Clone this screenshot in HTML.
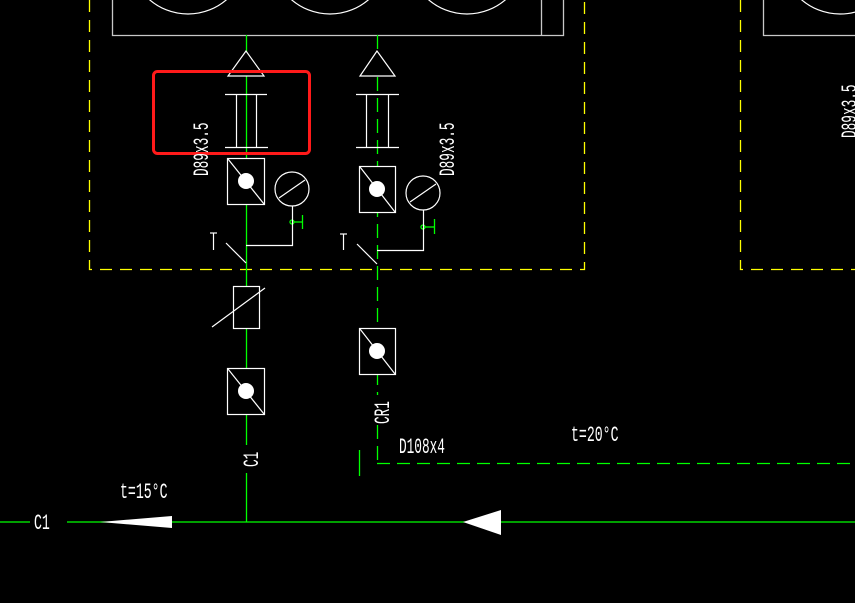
<!DOCTYPE html>
<html><head><meta charset="utf-8"><style>
html,body{margin:0;padding:0;background:#000;}
svg{display:block;}
text{font-family:"Liberation Mono",monospace;fill:#fff;}
</style></head><body>
<svg width="855" height="603" viewBox="0 0 855 603" xmlns="http://www.w3.org/2000/svg">
<rect width="855" height="603" fill="#000"/>
<g fill="none" stroke="#c8c8c8" stroke-width="1.3">
<path d="M112.5 0 V35.5 H563.5 V0"/>
<line x1="541.5" y1="0" x2="541.5" y2="35"/>
<path d="M763.5 0 V35.5 H855"/>
</g>
<g fill="none" stroke="#fff" stroke-width="1.2">
<circle cx="188" cy="-45" r="59"/>
<circle cx="330" cy="-45" r="59"/>
<circle cx="467" cy="-45" r="59"/>
<circle cx="840" cy="-45" r="59"/>
</g>
<g fill="none" stroke="#ffff00" stroke-width="1.3" stroke-dasharray="12,8">
<path d="M89.5 0 V269.5 H584.5 V0"/>
<path d="M740.5 0 V269.5 H855"/>
</g>
<g stroke="#00ff00" stroke-width="1.3" fill="none">
<line x1="246.5" y1="35" x2="246.5" y2="445"/>
<line x1="246.5" y1="473" x2="246.5" y2="522"/>
<line x1="377.5" y1="35" x2="377.5" y2="395" stroke-dasharray="14,7"/>
<line x1="377.5" y1="425" x2="377.5" y2="463" stroke-dasharray="14,7"/>
<line x1="377" y1="463.5" x2="855" y2="463.5" stroke-dasharray="13,7"/>
<line x1="359.5" y1="450" x2="359.5" y2="476"/>
<line x1="0" y1="522" x2="30" y2="522"/>
<line x1="67" y1="522" x2="855" y2="522"/>
<circle cx="292" cy="222" r="2"/>
<line x1="294" y1="222" x2="302" y2="222"/>
<line x1="302.5" y1="215" x2="302.5" y2="229"/>
<circle cx="423" cy="227" r="2"/>
<line x1="425" y1="227" x2="434" y2="227"/>
<line x1="434.5" y1="219" x2="434.5" y2="234"/>
</g>
<g stroke="#fff" stroke-width="1.2" fill="#000">
<polygon points="246,51 228,76 264,76"/>
<polygon points="377,51 360,76 395,76"/>
<line x1="225" y1="94.5" x2="267" y2="94.5"/>
<line x1="225" y1="147.5" x2="268" y2="147.5"/>
<line x1="236.5" y1="94" x2="236.5" y2="147"/>
<line x1="256.5" y1="94" x2="256.5" y2="147"/>
<line x1="356" y1="94.5" x2="399" y2="94.5"/>
<line x1="356" y1="147.5" x2="399" y2="147.5"/>
<line x1="366.5" y1="94" x2="366.5" y2="147"/>
<line x1="388.5" y1="94" x2="388.5" y2="147"/>
<rect x="227.5" y="158.5" width="37" height="46"/>
<line x1="228" y1="159" x2="264" y2="204"/>
<rect x="359.5" y="166.5" width="36" height="46"/>
<line x1="360" y1="167" x2="395" y2="212"/>
<rect x="227.5" y="368.5" width="37" height="46"/>
<line x1="228" y1="369" x2="264" y2="414"/>
<rect x="359.5" y="328.5" width="36" height="46"/>
<line x1="360" y1="329" x2="395" y2="374"/>
<circle cx="292" cy="189" r="17"/>
<line x1="279" y1="198" x2="305" y2="180"/>
<circle cx="423" cy="193" r="17"/>
<line x1="410" y1="202" x2="436" y2="184"/>
<path d="M292.5 206 V245.5 H246" fill="none"/>
<path d="M423.5 210 V250.5 H377" fill="none"/>
<line x1="213.5" y1="233" x2="213.5" y2="250"/>
<line x1="210" y1="233" x2="217" y2="233"/>
<line x1="226" y1="243" x2="246" y2="263"/>
<line x1="343.5" y1="234" x2="343.5" y2="250"/>
<line x1="340" y1="234" x2="347" y2="234"/>
<line x1="357" y1="244" x2="377" y2="264"/>
<rect x="233.5" y="286.5" width="26" height="42"/>
<line x1="212" y1="327" x2="265" y2="288"/>
</g>
<g fill="#fff">
<circle cx="246" cy="181" r="8"/>
<circle cx="377" cy="189" r="8"/>
<circle cx="246" cy="391" r="8"/>
<circle cx="377" cy="351" r="8"/>
<polygon points="100,522 172,516 172,528"/>
<polygon points="463,522 501,510 501,535"/>
</g>
<rect x="153.5" y="71.5" width="156" height="82" rx="4" fill="none" stroke="#ff1a1a" stroke-width="3"/>
<g font-size="22">
<text transform="translate(208,176) rotate(-90) scale(0.58,1)">D89x3.5</text>
<text transform="translate(454,176) rotate(-90) scale(0.58,1)">D89x3.5</text>
<text transform="translate(856,138) rotate(-90) scale(0.58,1)">D89x3.5</text>
<text transform="translate(258,467) rotate(-90) scale(0.58,1)">C1</text>
<text transform="translate(389,424) rotate(-90) scale(0.58,1)">CR1</text>
<text transform="translate(399,453) scale(0.58,1)">D108x4</text>
<text transform="translate(571,441) scale(0.6,1)">t=20°C</text>
<text transform="translate(120,498) scale(0.6,1)">t=15°C</text>
<text transform="translate(34,529) scale(0.6,1)">C1</text>
</g>
</svg>
</body></html>
